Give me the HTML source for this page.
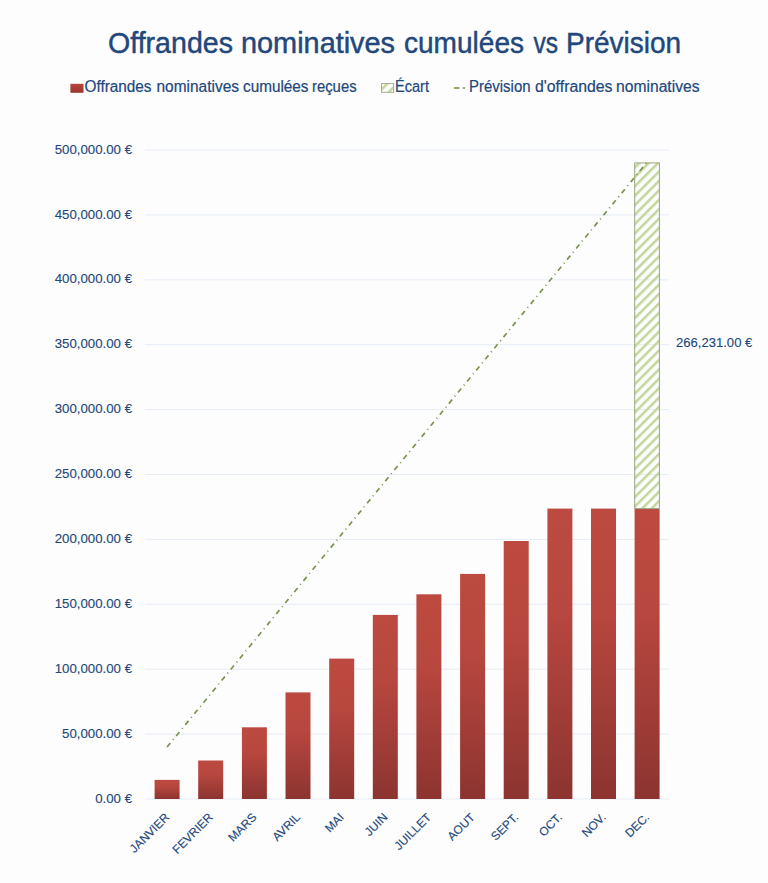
<!DOCTYPE html>
<html><head><meta charset="utf-8"><title>Offrandes nominatives cumulées vs Prévision</title><style>
html,body{margin:0;padding:0;background:#fdfdfd;overflow:hidden;}
svg{display:block;font-family:"Liberation Sans",sans-serif;}
</style></head><body>
<svg width="768" height="883" viewBox="0 0 768 883">
<defs>
<linearGradient id="g" x1="0" y1="0" x2="0" y2="1">
<stop offset="0" stop-color="#bc4a40"/>
<stop offset="0.35" stop-color="#b8473f"/>
<stop offset="1" stop-color="#8c3430"/>
</linearGradient>
<linearGradient id="g2" x1="0" y1="0" x2="0" y2="1">
<stop offset="0" stop-color="#bb463c"/>
<stop offset="1" stop-color="#973632"/>
</linearGradient>
<pattern id="h" patternUnits="userSpaceOnUse" width="6.66" height="20" patternTransform="rotate(45) translate(-0.03 0)">
<rect x="0" y="0" width="2.5" height="20" fill="#c3d69b"/>
</pattern>
<pattern id="h2" patternUnits="userSpaceOnUse" width="6.9" height="30" patternTransform="translate(381.5 83.5) rotate(45) translate(3.06 -15)">
<rect x="0" y="0" width="2.5" height="30" fill="#c3d69b"/>
</pattern>
</defs>
<rect x="0" y="0" width="768" height="883" fill="#fdfdfd"/>
<text x="108.0" y="53.1" font-size="29.4" fill="#22477b" stroke="#22477b" stroke-width="0.45" textLength="125.02" lengthAdjust="spacingAndGlyphs">Offrandes</text>
<text x="241.0" y="53.1" font-size="29.4" fill="#22477b" stroke="#22477b" stroke-width="0.45" textLength="154.04" lengthAdjust="spacingAndGlyphs">nominatives</text>
<text x="404.0" y="53.1" font-size="29.4" fill="#22477b" stroke="#22477b" stroke-width="0.45" textLength="120.01" lengthAdjust="spacingAndGlyphs">cumulées</text>
<text x="533.5" y="53.1" font-size="29.4" fill="#22477b" stroke="#22477b" stroke-width="0.45" textLength="24.56" lengthAdjust="spacingAndGlyphs">vs</text>
<text x="566.0" y="53.1" font-size="29.4" fill="#22477b" stroke="#22477b" stroke-width="0.45" textLength="115.09" lengthAdjust="spacingAndGlyphs">Prévision</text>
<rect x="70.4" y="83.8" width="13.1" height="9" fill="url(#g2)"/>
<rect x="381.5" y="83.5" width="12.1" height="8.8" fill="url(#h2)" stroke="#a5b08c" stroke-width="1"/>
<line x1="454" y1="88" x2="466" y2="88" stroke="#93a66a" stroke-width="2" stroke-dasharray="5.5 3.5 2 10"/>
<text x="84.5" y="92.2" font-size="15.6" fill="#22477b" stroke="#22477b" stroke-width="0.2" textLength="67.04" lengthAdjust="spacingAndGlyphs">Offrandes</text>
<text x="156.5" y="92.2" font-size="15.6" fill="#22477b" stroke="#22477b" stroke-width="0.2" textLength="82.52" lengthAdjust="spacingAndGlyphs">nominatives</text>
<text x="243.0" y="92.2" font-size="15.6" fill="#22477b" stroke="#22477b" stroke-width="0.2" textLength="65.51" lengthAdjust="spacingAndGlyphs">cumulées</text>
<text x="312.0" y="92.2" font-size="15.6" fill="#22477b" stroke="#22477b" stroke-width="0.2" textLength="44.57" lengthAdjust="spacingAndGlyphs">reçues</text>
<text x="395.0" y="92.2" font-size="15.6" fill="#22477b" stroke="#22477b" stroke-width="0.2" textLength="34.04" lengthAdjust="spacingAndGlyphs">Écart</text>
<text x="469.0" y="92.2" font-size="15.6" fill="#22477b" stroke="#22477b" stroke-width="0.2" textLength="61.54" lengthAdjust="spacingAndGlyphs">Prévision</text>
<text x="535.0" y="92.2" font-size="15.6" fill="#22477b" stroke="#22477b" stroke-width="0.2" textLength="77.51" lengthAdjust="spacingAndGlyphs">d'offrandes</text>
<text x="616.0" y="92.2" font-size="15.6" fill="#22477b" stroke="#22477b" stroke-width="0.2" textLength="83.52" lengthAdjust="spacingAndGlyphs">nominatives</text>
<line x1="145" y1="799.0" x2="669" y2="799.0" stroke="#e6ecf5" stroke-width="1"/>
<line x1="145" y1="734.1" x2="669" y2="734.1" stroke="#e6ecf5" stroke-width="1"/>
<line x1="145" y1="669.2" x2="669" y2="669.2" stroke="#e6ecf5" stroke-width="1"/>
<line x1="145" y1="604.3" x2="669" y2="604.3" stroke="#e6ecf5" stroke-width="1"/>
<line x1="145" y1="539.4" x2="669" y2="539.4" stroke="#e6ecf5" stroke-width="1"/>
<line x1="145" y1="474.5" x2="669" y2="474.5" stroke="#e6ecf5" stroke-width="1"/>
<line x1="145" y1="409.6" x2="669" y2="409.6" stroke="#e6ecf5" stroke-width="1"/>
<line x1="145" y1="344.7" x2="669" y2="344.7" stroke="#e6ecf5" stroke-width="1"/>
<line x1="145" y1="279.8" x2="669" y2="279.8" stroke="#e6ecf5" stroke-width="1"/>
<line x1="145" y1="214.9" x2="669" y2="214.9" stroke="#e6ecf5" stroke-width="1"/>
<line x1="145" y1="150.0" x2="669" y2="150.0" stroke="#e6ecf5" stroke-width="1"/>
<text x="132" y="802.6" font-size="13.6" fill="#22477b" stroke="#22477b" stroke-width="0.12" text-anchor="end" textLength="36.79" lengthAdjust="spacingAndGlyphs">0.00 €</text>
<text x="132" y="737.7" font-size="13.6" fill="#22477b" stroke="#22477b" stroke-width="0.12" text-anchor="end" textLength="69.91" lengthAdjust="spacingAndGlyphs">50,000.00 €</text>
<text x="132" y="672.8" font-size="13.6" fill="#22477b" stroke="#22477b" stroke-width="0.12" text-anchor="end" textLength="77.26" lengthAdjust="spacingAndGlyphs">100,000.00 €</text>
<text x="132" y="607.9" font-size="13.6" fill="#22477b" stroke="#22477b" stroke-width="0.12" text-anchor="end" textLength="77.26" lengthAdjust="spacingAndGlyphs">150,000.00 €</text>
<text x="132" y="543.0" font-size="13.6" fill="#22477b" stroke="#22477b" stroke-width="0.12" text-anchor="end" textLength="77.26" lengthAdjust="spacingAndGlyphs">200,000.00 €</text>
<text x="132" y="478.1" font-size="13.6" fill="#22477b" stroke="#22477b" stroke-width="0.12" text-anchor="end" textLength="77.26" lengthAdjust="spacingAndGlyphs">250,000.00 €</text>
<text x="132" y="413.2" font-size="13.6" fill="#22477b" stroke="#22477b" stroke-width="0.12" text-anchor="end" textLength="77.26" lengthAdjust="spacingAndGlyphs">300,000.00 €</text>
<text x="132" y="348.3" font-size="13.6" fill="#22477b" stroke="#22477b" stroke-width="0.12" text-anchor="end" textLength="77.26" lengthAdjust="spacingAndGlyphs">350,000.00 €</text>
<text x="132" y="283.4" font-size="13.6" fill="#22477b" stroke="#22477b" stroke-width="0.12" text-anchor="end" textLength="77.26" lengthAdjust="spacingAndGlyphs">400,000.00 €</text>
<text x="132" y="218.5" font-size="13.6" fill="#22477b" stroke="#22477b" stroke-width="0.12" text-anchor="end" textLength="77.26" lengthAdjust="spacingAndGlyphs">450,000.00 €</text>
<text x="132" y="153.6" font-size="13.6" fill="#22477b" stroke="#22477b" stroke-width="0.12" text-anchor="end" textLength="77.26" lengthAdjust="spacingAndGlyphs">500,000.00 €</text>
<rect x="154.6" y="779.9" width="25" height="19.1" fill="url(#g)"/>
<rect x="198.2" y="760.5" width="25" height="38.5" fill="url(#g)"/>
<rect x="241.9" y="727.3" width="25" height="71.7" fill="url(#g)"/>
<rect x="285.5" y="692.4" width="25" height="106.6" fill="url(#g)"/>
<rect x="329.2" y="658.6" width="25" height="140.4" fill="url(#g)"/>
<rect x="372.8" y="614.9" width="25" height="184.1" fill="url(#g)"/>
<rect x="416.4" y="594.3" width="25" height="204.7" fill="url(#g)"/>
<rect x="460.1" y="573.9" width="25" height="225.1" fill="url(#g)"/>
<rect x="503.7" y="541.0" width="25" height="258.0" fill="url(#g)"/>
<rect x="547.4" y="508.6" width="25" height="290.4" fill="url(#g)"/>
<rect x="591.0" y="508.6" width="25" height="290.4" fill="url(#g)"/>
<rect x="634.6" y="508.6" width="25" height="290.4" fill="url(#g)"/>
<rect x="634.7" y="162.9" width="24.7" height="345.7" fill="url(#h)" stroke="#9aa582" stroke-width="1"/>
<line x1="167.1" y1="747.0" x2="647" y2="162.2" stroke="#7a9450" stroke-width="1.7" stroke-dasharray="5.1 4.1 1.0 4.13"/>
<text x="676" y="346.7" font-size="13.6" fill="#22477b" stroke="#22477b" stroke-width="0.12" textLength="76.3" lengthAdjust="spacingAndGlyphs">266,231.00 €</text>
<text transform="translate(170.1,818) rotate(-45)" font-size="11.9" fill="#22477b" stroke="#22477b" stroke-width="0.15" text-anchor="end">JANVIER</text>
<text transform="translate(213.7,818) rotate(-45)" font-size="11.9" fill="#22477b" stroke="#22477b" stroke-width="0.15" text-anchor="end">FEVRIER</text>
<text transform="translate(257.4,818) rotate(-45)" font-size="11.9" fill="#22477b" stroke="#22477b" stroke-width="0.15" text-anchor="end">MARS</text>
<text transform="translate(301.0,818) rotate(-45)" font-size="11.9" fill="#22477b" stroke="#22477b" stroke-width="0.15" text-anchor="end">AVRIL</text>
<text transform="translate(344.7,818) rotate(-45)" font-size="11.9" fill="#22477b" stroke="#22477b" stroke-width="0.15" text-anchor="end">MAI</text>
<text transform="translate(388.3,818) rotate(-45)" font-size="11.9" fill="#22477b" stroke="#22477b" stroke-width="0.15" text-anchor="end">JUIN</text>
<text transform="translate(431.9,818) rotate(-45)" font-size="11.9" fill="#22477b" stroke="#22477b" stroke-width="0.15" text-anchor="end">JUILLET</text>
<text transform="translate(475.6,818) rotate(-45)" font-size="11.9" fill="#22477b" stroke="#22477b" stroke-width="0.15" text-anchor="end">AOUT</text>
<text transform="translate(519.2,818) rotate(-45)" font-size="11.9" fill="#22477b" stroke="#22477b" stroke-width="0.15" text-anchor="end">SEPT.</text>
<text transform="translate(562.9,818) rotate(-45)" font-size="11.9" fill="#22477b" stroke="#22477b" stroke-width="0.15" text-anchor="end">OCT.</text>
<text transform="translate(606.5,818) rotate(-45)" font-size="11.9" fill="#22477b" stroke="#22477b" stroke-width="0.15" text-anchor="end">NOV.</text>
<text transform="translate(650.1,818) rotate(-45)" font-size="11.9" fill="#22477b" stroke="#22477b" stroke-width="0.15" text-anchor="end">DEC.</text>
</svg></body></html>
